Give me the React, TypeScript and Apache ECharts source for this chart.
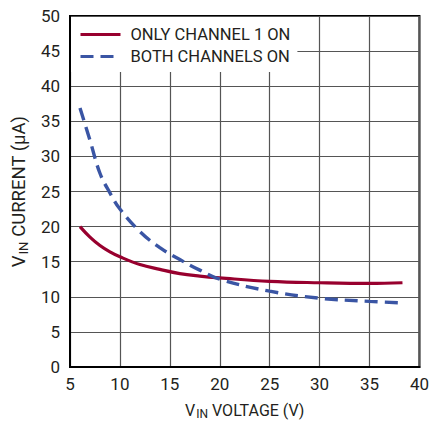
import React, { useEffect, useRef } from "react";
import * as echarts from "echarts";

const xTicks = { min: 5, max: 40, interval: 5 };
const yTicks = { min: 0, max: 50, interval: 5 };

const seriesNames = ["ONLY CHANNEL 1 ON", "BOTH CHANNELS ON"];

const onlyX = [6, 7, 8, 9, 10, 12, 14, 16, 18, 20, 25, 30, 35, 38.3];
const onlyY = [20, 18.5, 17.3, 16.4, 15.7, 14.6, 13.9, 13.3, 12.95, 12.7, 12.2, 12.0, 11.9, 12.0];

const bothX = [6, 7, 8, 9, 10, 12, 14, 16, 18, 20, 25, 30, 35, 38];
const bothY = [36.9, 32.3, 27.6, 24.8, 22.5, 19.3, 17.0, 15.3, 13.8, 12.5, 10.8, 9.8, 9.35, 9.15];

const FONT = "Roboto, 'Liberation Sans', sans-serif";
const TEXT = "#231f20";
const RED = "#98002e";
const BLUE = "#3a55a4";

export default function App() {
  const ref = useRef<HTMLDivElement>(null);
  useEffect(() => {
    if (!ref.current) return;
    const chart = echarts.init(ref.current, undefined, { renderer: "svg" });
    const zip = (xs: number[], ys: number[]) => xs.map((x, i) => [x, ys[i]]);
    chart.setOption({
      animation: false,
      backgroundColor: "#fff",
      grid: {
        left: 70,
        right: 10,
        top: 16,
        bottom: 58,
        show: true,
        borderColor: "#000",
        borderWidth: 2,
        backgroundColor: "transparent",
      },
      legend: {
        orient: "vertical",
        left: 71,
        top: 17,
        padding: [9, 7, 7, 8],
        itemGap: 5,
        itemWidth: 40,
        itemHeight: 16,
        backgroundColor: "#fff",
        itemStyle: { opacity: 0 },
        lineStyle: { width: 3 },
        textStyle: { fontFamily: FONT, fontSize: 16.5, color: TEXT, padding: [0, 0, 0, 5] },
        data: seriesNames,
      },
      xAxis: {
        type: "value",
        ...xTicks,
        name: "{v|V}{s|IN}{v| VOLTAGE (V)}",
        nameLocation: "middle",
        nameGap: 33,
        nameTextStyle: {
          rich: {
            v: { fontFamily: FONT, fontSize: 16, color: TEXT },
            s: { fontFamily: FONT, fontSize: 12, color: TEXT, padding: [8, 0, 0, 1] },
          },
        },
        axisLine: { show: true, lineStyle: { color: "#000", width: 2 } },
        axisTick: { show: false },
        axisLabel: { fontFamily: FONT, fontSize: 17, color: TEXT, margin: 8 },
        splitLine: { show: true, lineStyle: { color: "#555", width: 1.2 } },
      },
      yAxis: {
        type: "value",
        ...yTicks,
        name: "{v|V}{s|IN}{v| CURRENT (µA)}",
        nameLocation: "middle",
        nameGap: 35,
        nameTextStyle: {
          rich: {
            v: { fontFamily: FONT, fontSize: 18.5, color: TEXT },
            s: { fontFamily: FONT, fontSize: 13, color: TEXT, padding: [9, 0, 0, 1] },
          },
        },
        axisLine: { show: true, lineStyle: { color: "#000", width: 2 } },
        axisTick: { show: false },
        axisLabel: { fontFamily: FONT, fontSize: 17, color: TEXT, margin: 10 },
        splitLine: { show: true, lineStyle: { color: "#555", width: 1.2 } },
      },
      series: [
        {
          name: seriesNames[0],
          type: "line",
          data: zip(onlyX, onlyY),
          symbol: "none",
          smooth: 0.4,
          lineStyle: { color: RED, width: 3.2 },
          itemStyle: { color: RED },
        },
        {
          name: seriesNames[1],
          type: "line",
          data: zip(bothX, bothY),
          symbol: "none",
          smooth: 0.4,
          lineStyle: { color: BLUE, width: 3.4, type: [13, 7] },
          itemStyle: { color: BLUE },
        },
      ],
    });
    return () => chart.dispose();
  }, []);
  return <div ref={ref} style={{ width: 432, height: 425, position: "absolute", left: 0, top: 0 }} />;
}
